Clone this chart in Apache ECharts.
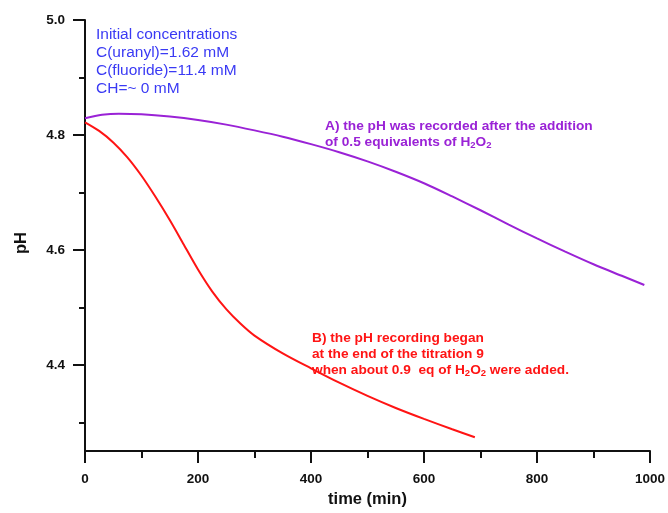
<!DOCTYPE html>
<html>
<head>
<meta charset="utf-8">
<script src="https://cdn.jsdelivr.net/npm/echarts@6/dist/echarts.min.js"></script>
<style>
html,body{margin:0;padding:0;background:#fff;}
#chart{width:668px;height:513px;}
</style>
</head>
<body>
<div id="chart"></div>
<script>
// Series A: pH recorded after addition of 0.5 eq H2O2 (purple)
const timeA = [0, 30, 60, 100, 150, 200, 250, 300, 350, 400, 450, 500, 550, 600, 650, 700, 750, 800, 850, 900, 950, 990];
const phA   = [4.829, 4.835, 4.837, 4.836, 4.832, 4.826, 4.818, 4.808, 4.797, 4.784, 4.770, 4.754, 4.736, 4.716, 4.693, 4.669, 4.644, 4.620, 4.597, 4.575, 4.555, 4.539];
// Series B: pH recording began at end of titration 9 (red)
const timeB = [0, 25, 50, 75, 100, 125, 150, 175, 200, 225, 250, 275, 300, 350, 400, 450, 500, 550, 600, 650, 690];
const phB   = [4.822, 4.807, 4.787, 4.761, 4.729, 4.692, 4.652, 4.609, 4.566, 4.528, 4.497, 4.472, 4.451, 4.420, 4.394, 4.369, 4.346, 4.325, 4.306, 4.288, 4.274];
// Axis ticks
const yMajorTicks = [4.4, 4.6, 4.8, 5.0];
const yMinorTicks = [4.3, 4.5, 4.7, 4.9];
const xTicks = [0, 200, 400, 600, 800, 1000];
// Texts
const xTitle = 'time (min)';
const yTitle = 'pH';
const noteInit = ['Initial concentrations', 'C(uranyl)=1.62 mM', 'C(fluoride)=11.4 mM', 'CH=~ 0 mM'];
const noteA = ['A) the pH was recorded after the addition', 'of 0.5 equivalents of H{sub|2}O{sub|2}'];
const noteB = ['B) the pH recording began', 'at the end of the titration 9', 'when about 0.9  eq of H{sub|2}O{sub|2} were added.'];

const FONT = '"Liberation Sans", Arial, sans-serif';
const BLUE = '#3a3af4';
const PURPLE = '#9a22d6';
const RED = '#ff1414';

function pairs(xs, ys) { return xs.map((x, i) => [x, ys[i]]); }

function subRich(color, size) {
  return {
    sub: { fontSize: 9.5, fontWeight: 'bold', fontFamily: FONT, color: color, padding: [7, 0, 0, 0], lineHeight: size }
  };
}

const chart = echarts.init(document.getElementById('chart'));
chart.setOption({
  animation: false,
  backgroundColor: '#fff',
  grid: { left: 85, right: 16, top: 20, bottom: 52, containLabel: false },
  title: [
    {
      text: noteInit.join('\n'), left: 96, top: 26, padding: 0,
      textStyle: { fontFamily: FONT, fontSize: 15.5, fontWeight: 'normal', color: BLUE, lineHeight: 18 }
    },
    {
      text: noteA.join('\n'), left: 325, top: 118, padding: 0,
      textStyle: { fontFamily: FONT, fontSize: 13.7, fontWeight: 'bold', color: PURPLE, lineHeight: 16, rich: subRich(PURPLE, 16) }
    },
    {
      text: noteB.join('\n'), left: 312, top: 330, padding: 0,
      textStyle: { fontFamily: FONT, fontSize: 13.7, fontWeight: 'bold', color: RED, lineHeight: 16, rich: subRich(RED, 16) }
    }
  ],
  graphic: [
    {
      type: 'text', x: 21, y: 243, rotation: Math.PI / 2,
      style: { text: yTitle, font: 'bold 16.5px ' + FONT, fill: '#111', align: 'center', verticalAlign: 'middle' }
    }
  ],
  xAxis: {
    type: 'value', min: 0, max: 1000, interval: 200,
    name: xTitle, nameLocation: 'middle', nameGap: 37,
    nameTextStyle: { fontFamily: FONT, fontSize: 16.5, fontWeight: 'bold', color: '#111' },
    axisLine: { show: true, onZero: false, lineStyle: { color: '#111', width: 2 } },
    axisTick: { show: true, length: 12, lineStyle: { color: '#111', width: 2 } },
    minorTick: { show: true, splitNumber: 2, length: 7, lineStyle: { color: '#111', width: 2 } },
    axisLabel: { margin: 21, fontFamily: FONT, fontSize: 13.5, fontWeight: 'bold', color: '#111',
      customValues: xTicks, formatter: v => String(v) },
    splitLine: { show: false }
  },
  yAxis: [
    {
      type: 'value', min: 4.25, max: 5.0,
      axisLine: { show: true, onZero: false, lineStyle: { color: '#111', width: 2 } },
      axisTick: { show: true, length: 12, customValues: yMajorTicks, lineStyle: { color: '#111', width: 2 } },
      axisLabel: { margin: 20, fontFamily: FONT, fontSize: 13.5, fontWeight: 'bold', color: '#111',
        customValues: yMajorTicks, formatter: v => v.toFixed(1) },
      splitLine: { show: false }
    },
    {
      type: 'value', min: 4.25, max: 5.0, position: 'left',
      axisLine: { show: false },
      axisTick: { show: true, length: 6, customValues: yMinorTicks, lineStyle: { color: '#111', width: 2 } },
      axisLabel: { show: false },
      splitLine: { show: false }
    }
  ],
  series: [
    {
      type: 'line', name: 'A', data: pairs(timeA, phA), yAxisIndex: 0,
      smooth: 0.3, showSymbol: false,
      lineStyle: { color: PURPLE, width: 2 }, itemStyle: { color: PURPLE }
    },
    {
      type: 'line', name: 'B', data: pairs(timeB, phB), yAxisIndex: 0,
      smooth: 0.3, showSymbol: false,
      lineStyle: { color: RED, width: 2 }, itemStyle: { color: RED }
    }
  ]
});
</script>
</body>
</html>
